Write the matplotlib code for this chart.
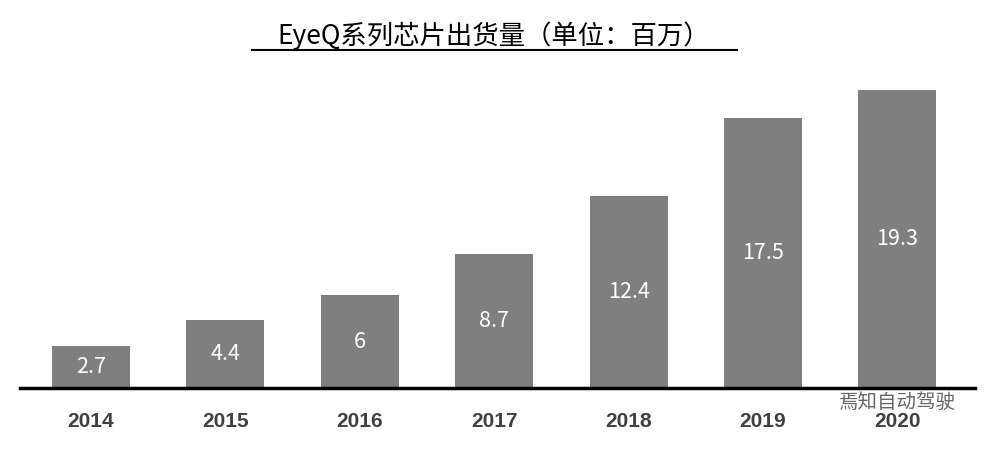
import matplotlib
matplotlib.use("Agg")
import matplotlib.pyplot as plt
from matplotlib.lines import Line2D

plt.rcParams['font.family'] = ['Noto Sans CJK SC', 'DejaVu Sans']

years = ["2014", "2015", "2016", "2017", "2018", "2019", "2020"]
values = [2.7, 4.4, 6, 8.7, 12.4, 17.5, 19.3]
labels = ["2.7", "4.4", "6", "8.7", "12.4", "17.5", "19.3"]

fig = plt.figure(figsize=(9.87, 4.49), dpi=100)
ax = fig.add_axes([20/987, 61/449, 955/987, 309/449])
x = list(range(len(years)))
ax.bar(x, values, width=0.58, color="#7f7f7f")
for xi, v, l in zip(x, values, labels):
    ax.text(xi, v / 2, l, ha="center", va="center", color="white", fontsize=15.5)
ax.set_xlim(-0.528, 6.577)
ax.set_ylim(0, 20)
for s in ["top", "right", "left"]:
    ax.spines[s].set_visible(False)
ax.spines["bottom"].set_linewidth(2.5)
ax.set_yticks([])
ax.set_xticks(x)
ax.set_xticklabels(years, fontsize=15, fontweight="bold", color="#404040", family="Liberation Sans")
ax.tick_params(axis="x", length=0, pad=17)

fig.text(0.5, 1 - 36/449, "EyeQ系列芯片出货量（单位：百万）", ha="center", va="center",
         fontsize=19, fontweight="medium", color="black")
fig.add_artist(Line2D([252/987, 737/987], [1 - 50/449, 1 - 50/449], color="black", lw=1.5))
fig.text(0.968, 1 - 402/449, "焉知自动驾驶", ha="right", va="center", fontsize=14, color="#555555", alpha=0.9)

fig.savefig("out.png", dpi=100)
